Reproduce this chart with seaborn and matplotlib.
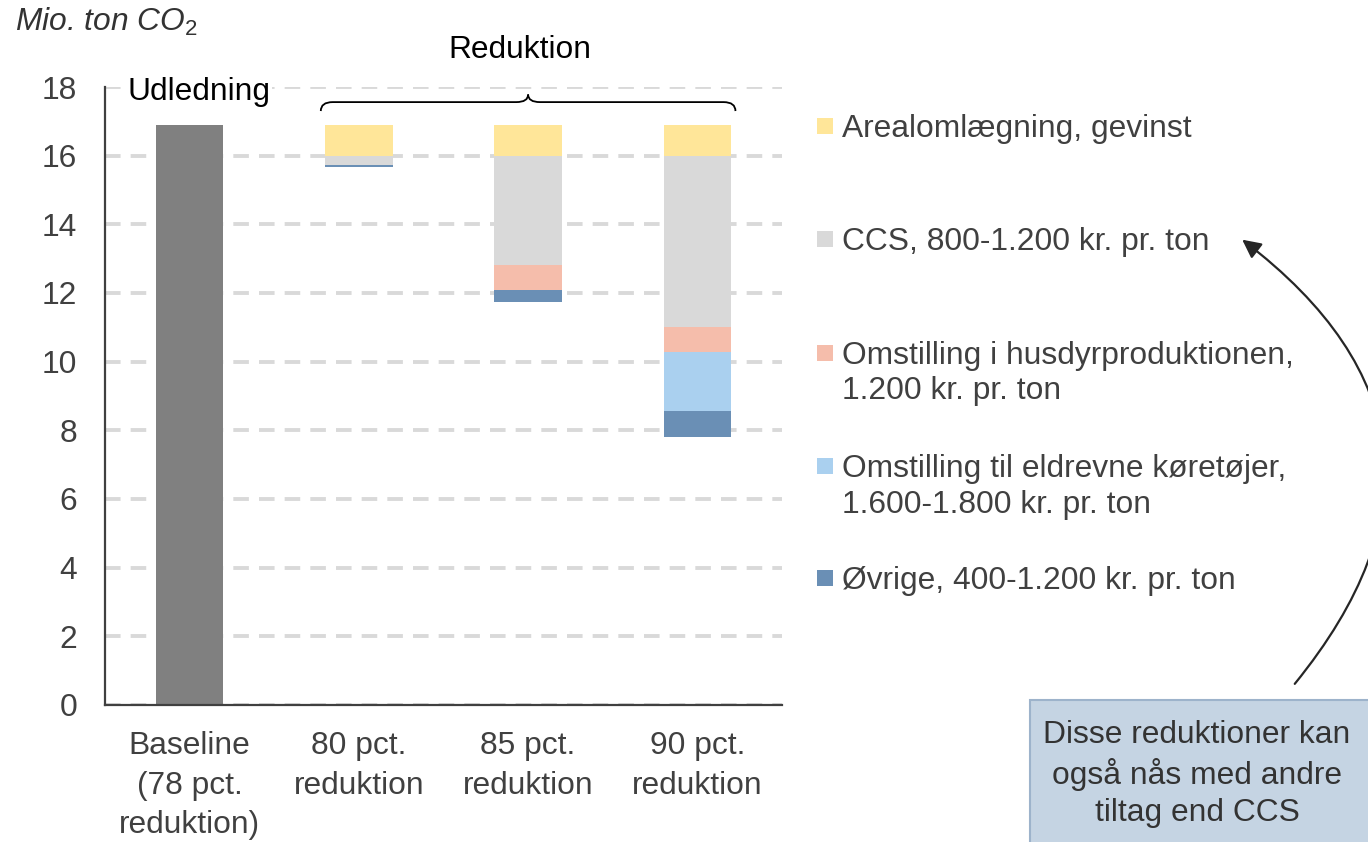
import numpy as np
import seaborn as sns
import matplotlib.pyplot as plt
from matplotlib.patches import Rectangle, FancyArrowPatch, PathPatch
from matplotlib.path import Path

# data (Mio. ton CO2)
categories = ["Baseline\n(78 pct.\nreduktion)", "80 pct.\nreduktion", "85 pct.\nreduktion", "90 pct.\nreduktion"]
udledning = [16.9, 0, 0, 0]
baseline_level = 16.9
oevrige = [0, 0.07, 0.35, 0.75]
eldrevne = [0, 0, 0, 1.72]
husdyr = [0, 0, 0.73, 0.72]
ccs = [0, 0.27, 3.18, 5.0]
areal = [0, 0.9, 0.9, 0.9]

legend_labels = [
    ["Arealomlægning, gevinst"],
    ["CCS, 800-1.200 kr. pr. ton"],
    ["Omstilling i husdyrproduktionen,", "1.200 kr. pr. ton"],
    ["Omstilling til eldrevne køretøjer,", "1.600-1.800 kr. pr. ton"],
    ["Øvrige, 400-1.200 kr. pr. ton"],
]
colors = ["#FFE699", "#D9D9D9", "#F5BDAB", "#AAD0EF", "#6A8FB5"]

sns.set_style("white")
plt.rcParams['font.family'] = ['Liberation Sans', 'DejaVu Sans']
plt.rcParams['mathtext.fontset'] = 'custom'
plt.rcParams['mathtext.it'] = 'Liberation Sans:italic'
plt.rcParams['mathtext.rm'] = 'Liberation Sans'

FS = 22.9
TXT = "#404040"
W, H = 1368, 842

fig = plt.figure(figsize=(13.68, 8.42), dpi=100)
ax = fig.add_axes([105 / W, 1 - 705 / H, 677 / W, 618 / H])

# baseline bar
sns.barplot(x=categories, y=udledning, color="#808080", width=0.4, saturation=1,
            linewidth=0, errorbar=None, ax=ax)

# reduction bars, stacked downward from baseline level
stack = [oevrige, eldrevne, husdyr, ccs, areal]
stack_colors = colors[::-1]
total_red = np.sum(stack, axis=0)
bottom = np.where(total_red > 0, baseline_level - total_red, 0.0)
for vals, c in zip(stack, stack_colors):
    sns.barplot(x=categories, y=vals, bottom=bottom, color=c, width=0.4, saturation=1,
                linewidth=0, errorbar=None, ax=ax)
    bottom = bottom + np.array(vals)

ax.set_ylim(0, 18)
ax.set_yticks(range(0, 19, 2))
ax.set_xlim(-0.5, 3.5)
ax.set_xlabel("")
ax.set_ylabel("")
ax.yaxis.grid(True, color="#D9D9D9", lw=2.8, linestyle=(0, (4, 2.6)))
ax.set_axisbelow(True)
ax.tick_params(axis="y", length=0, pad=20, labelsize=FS, labelcolor=TXT)
ax.tick_params(axis="x", length=0, pad=19, labelsize=FS, labelcolor=TXT)
for t in ax.get_xticklabels():
    t.set_linespacing(1.4)
for s in ["top", "right"]:
    ax.spines[s].set_visible(False)
for s in ["left", "bottom"]:
    ax.spines[s].set_color("#404040")
    ax.spines[s].set_linewidth(1.6)

# brace over the reduction bars
xl, xr, xm = 1 - 0.225, 3 + 0.225, 2.0
y_end, y_mid, y_tip = 17.3, 17.56, 17.78
verts = [(xl, y_end), (xl, y_mid), (xl + 0.07, y_mid),
         (xm - 0.07, y_mid), (xm, y_mid), (xm, y_tip),
         (xm, y_mid), (xm + 0.07, y_mid),
         (xr - 0.07, y_mid), (xr, y_mid), (xr, y_end)]
codes = [Path.MOVETO, Path.CURVE3, Path.CURVE3,
         Path.LINETO, Path.CURVE3, Path.CURVE3,
         Path.CURVE3, Path.CURVE3,
         Path.LINETO, Path.CURVE3, Path.CURVE3]
ax.add_patch(PathPatch(Path(verts, codes), fc="none", ec="black", lw=1.3, clip_on=False))

# texts
fig.text(15 / W, 1 - 22 / H, "Mio. ton CO$_2$", fontsize=FS, style="italic",
         color="#333333", ha="left", va="center")
fig.text(520 / W, 1 - 50 / H, "Reduktion", fontsize=FS, color="black", ha="center", va="center")
fig.text(199 / W, 1 - 92 / H, "Udledning", fontsize=FS, color="black", ha="center", va="center",
         bbox=dict(fc="white", ec="none", pad=1))

# legend
first_centers = [126, 239, 353, 466, 578]
for lines, c, yc in zip(legend_labels, colors, first_centers):
    fig.patches.append(Rectangle((817 / W, 1 - (yc + 8) / H), 16 / W, 16 / H,
                                 transform=fig.transFigure, fc=c, ec="none"))
    for i, line in enumerate(lines):
        fig.text(842 / W, 1 - (yc + 11 + i * 35.5) / H, line, fontsize=FS, color=TXT,
                 ha="left", va="baseline")

# note box
fig.patches.append(Rectangle((1030 / W, -0.05), 0.3, 1 - 700 / H + 0.05,
                             transform=fig.transFigure, fc="#C5D4E3", ec="#9DB3CB", lw=1.5))
fig.text(1197 / W, 1 - 774 / H, "Disse reduktioner kan\nogså nås med andre\ntiltag end CCS",
         fontsize=FS, color="#333333", ha="center", va="center", linespacing=1.32)

arrow = FancyArrowPatch((1293 / W, 1 - 686 / H), (1240 / W, 1 - 238 / H),
                        transform=fig.transFigure, connectionstyle="arc3,rad=0.52",
                        arrowstyle="-|>", mutation_scale=28, color="#262626", lw=1.6)
fig.patches.append(arrow)

fig.savefig("out.png", dpi=100)
